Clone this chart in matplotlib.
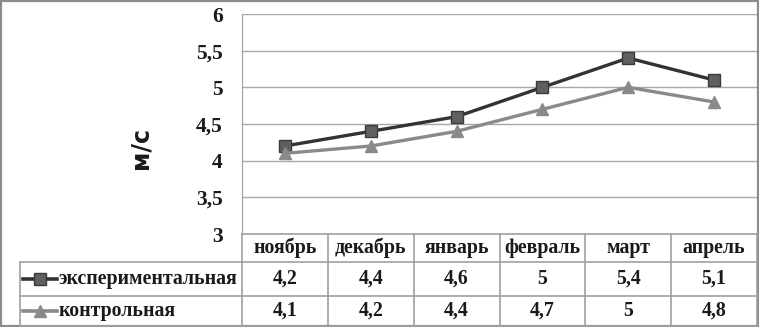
import matplotlib
matplotlib.use("Agg")
import matplotlib.pyplot as plt
from matplotlib.patches import Rectangle

categories = ["ноябрь", "декабрь", "январь", "февраль", "март", "апрель"]
series_names = ["экспериментальная", "контрольная"]
experimental = [4.2, 4.4, 4.6, 5.0, 5.4, 5.1]
control = [4.1, 4.2, 4.4, 4.7, 5.0, 4.8]
y_ticks = [3, 3.5, 4, 4.5, 5, 5.5, 6]
y_label = "м/с"

W, H = 759, 327
fig = plt.figure(figsize=(W / 100, H / 100), dpi=100)

serif = "Liberation Serif"
fs = 14.3
tc = "#1a1a1a"

# layout in pixels
px_left, px_right = 242, 757
px_top, px_bottom = 14, 234
tab_left = 20
row_lines = [234, 262, 296, 326]

ax = fig.add_axes([px_left / W, 1 - px_bottom / H,
                   (px_right - px_left) / W, (px_bottom - px_top) / H])
ax.set_xlim(-0.5, len(categories) - 0.5)
ax.set_ylim(3, 6)
ax.set_yticks(y_ticks)
ax.set_yticklabels([("%g" % t).replace(".", ",") for t in y_ticks],
                   fontfamily=serif, fontweight="bold", fontsize=15.5, color=tc)
ax.tick_params(axis="y", length=0, pad=14)
ax.set_xticks([])
for s in ax.spines.values():
    s.set_visible(False)
ax.spines["left"].set_visible(True)
ax.spines["left"].set_color("#a0a0a0")
ax.grid(axis="y", color="#a8a8a8", linewidth=1.0)
ax.set_axisbelow(True)

colors_line = ["#333333", "#8a8a8a"]
mk_face = ["#606060", "#8a8a8a"]
mk_edge = ["#3a3a3a", "#8a8a8a"]
markers = ["s", "^"]
msz = [9, 9]
x = list(range(len(categories)))
for vals, lc, mf, me, m, ms in zip([experimental, control], colors_line, mk_face, mk_edge, markers, msz):
    ax.plot(x, vals, color=lc, linewidth=2.4, marker=m, markersize=ms,
            markerfacecolor=mf, markeredgecolor=me, markeredgewidth=1.0, clip_on=False, zorder=3)

# y label
fig.text(141 / W, 1 - 148 / H, y_label, rotation=90, ha="center", va="center",
         fontfamily="DejaVu Sans", fontweight="bold", fontsize=17, color=tc)

# overlay axes for table in pixel coordinates
tx = fig.add_axes([0, 0, 1, 1], facecolor="none")
tx.set_xlim(0, W)
tx.set_ylim(H, 0)
tx.axis("off")

gc = "#a0a0a0"
ncol = len(categories)
colw = (px_right - px_left) / ncol
col_x = [px_left + i * colw for i in range(ncol + 1)]

tx.plot([px_left, px_right], [row_lines[0]] * 2, color=gc, lw=1.2)
for yy in row_lines[1:]:
    tx.plot([tab_left, px_right], [yy, yy], color=gc, lw=1.2)
for xx in col_x:
    tx.plot([xx, xx], [row_lines[0], row_lines[-1]], color=gc, lw=1.2)
tx.plot([tab_left, tab_left], [row_lines[1], row_lines[-1]], color=gc, lw=1.2)

for i, c in enumerate(categories):
    tx.text((col_x[i] + col_x[i + 1]) / 2, (row_lines[0] + row_lines[1]) / 2, c,
            ha="center", va="center", fontfamily=serif, fontweight="bold",
            fontsize=fs, color=tc)

def fmt(v):
    return ("%g" % v).replace(".", ",")

for r, (name, vals) in enumerate(zip(series_names, [experimental, control])):
    yc = (row_lines[r + 1] + row_lines[r + 2]) / 2
    tx.plot([23, 57], [yc, yc], color=colors_line[r], lw=2.6)
    tx.plot([40], [yc], marker=markers[r], markersize=8, markerfacecolor=mk_face[r],
            markeredgecolor=mk_edge[r], color=colors_line[r])
    tx.text(59, yc, name, ha="left", va="center", fontfamily=serif,
            fontweight="bold", fontsize=fs, color=tc)
    for i, v in enumerate(vals):
        tx.text((col_x[i] + col_x[i + 1]) / 2, yc, fmt(v), ha="center", va="center",
                fontfamily=serif, fontweight="bold", fontsize=fs, color=tc)

tx.add_patch(Rectangle((1, 1), W - 2, H - 2, fill=False, edgecolor="#8c8c8c", lw=1.6))

fig.savefig("out.png", dpi=100)
